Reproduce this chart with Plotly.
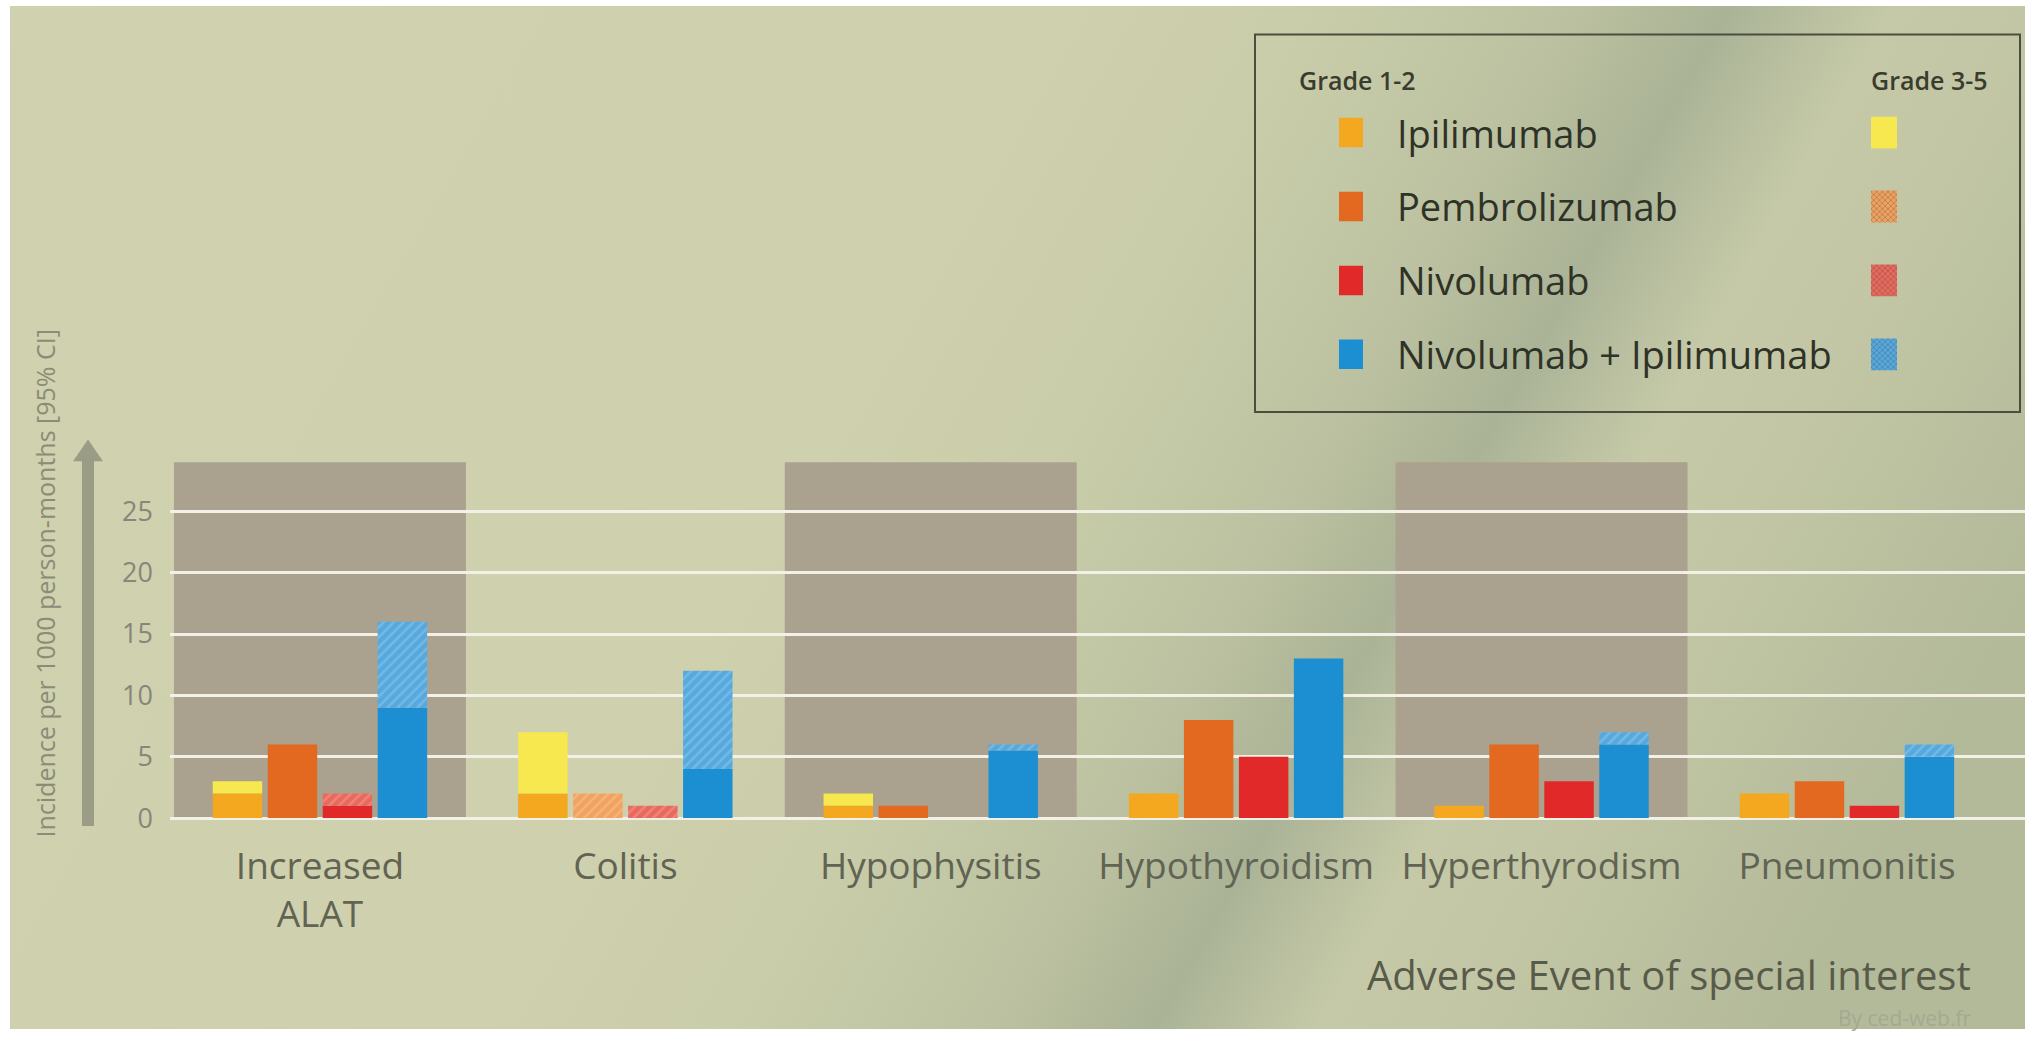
import base64
import plotly.graph_objects as go

# ---- data -----------------------------------------------------------------
categories = ["Increased<br>ALAT", "Colitis", "Hypophysitis", "Hypothyroidism",
              "Hyperthyrodism", "Pneumonitis"]
drugs = ["Ipilimumab", "Pembrolizumab", "Nivolumab", "Nivolumab + Ipilimumab"]

# incidence per 1000 person-months, grade 1-2 and grade 3-5 (stacked on top)
ipilimumab_g12 = [2, 2, 1, 2, 1, 2]
ipilimumab_g35 = [1, 5, 1, 0, 0, 0]
pembrolizumab_g12 = [6, 0, 1, 8, 6, 3]
pembrolizumab_g35 = [0, 2, 0, 0, 0, 0]
nivolumab_g12 = [1, 0, 0, 5, 3, 1]
nivolumab_g35 = [1, 1, 0, 0, 0, 0]
combo_g12 = [9, 4, 5.5, 13, 6, 5]
combo_g35 = [7, 8, 0.5, 0, 1, 1]

y_ticks = [0, 5, 10, 15, 20, 25]
shaded_groups = [0, 2, 4]

# ---- styling --------------------------------------------------------------
W, H = 2025, 1044
FONT = "Open Sans"
colors_g12 = ["#f4a81f", "#e2691f", "#e2292a", "#1b8fd2"]
colors_g35 = ["#f6e84e", "#f1a25e", "#e9695c", "#55a9de"]
hatched_g35 = [False, True, True, True]
BAND = "rgb(170,162,142)"
GRID = "#f3f1e6"
LABEL = "#616353"


def fx(px):
    return px / W


def fy(py):
    return 1 - py / H


def hatch(on, size=7):
    if not on:
        return dict(shape="")
    return dict(shape="/", size=size, solidity=0.35, fillmode="overlay",
                fgcolor="rgba(255,255,255,0.38)")


# background: diagonal beige -> grey-green gradient as an svg image
stops = [(0.0, "#d0d1ae"), (0.45, "#cfd0ad"), (0.55, "#cacda9"), (0.60, "#c3c8a6"),
         (0.66, "#bcc2a1"), (0.70, "#b2b99a"), (0.73, "#abb397"), (0.76, "#b6bd9e"),
         (0.80, "#c5c9a7"), (0.86, "#c2c6a5"), (0.95, "#b8be9d"), (1.0, "#b3ba99")]
stop_xml = "".join(f'<stop offset="{o}" stop-color="{c}"/>' for o, c in stops)
svg = (f'<svg xmlns="http://www.w3.org/2000/svg" width="2015" height="1038">'
       f'<defs><linearGradient id="g" gradientUnits="userSpaceOnUse" x1="0" y1="0" '
       f'x2="1800" y2="1000">{stop_xml}</linearGradient></defs>'
       f'<rect width="2015" height="1038" fill="url(#g)"/></svg>')
bg_uri = "data:image/svg+xml;base64," + base64.b64encode(svg.encode()).decode()

fig = go.Figure()

series = [
    (ipilimumab_g12, ipilimumab_g35),
    (pembrolizumab_g12, pembrolizumab_g35),
    (nivolumab_g12, nivolumab_g35),
    (combo_g12, combo_g35),
]
for i, (g12, g35) in enumerate(series):
    fig.add_trace(go.Bar(
        x=categories, y=g12, name=drugs[i] + " grade 1-2", offsetgroup=str(i),
        marker=dict(color=colors_g12[i], line=dict(width=0)),
        showlegend=False, hoverinfo="skip"))
    fig.add_trace(go.Bar(
        x=categories, y=g35, base=g12, name=drugs[i] + " grade 3-5", offsetgroup=str(i),
        marker=dict(color=colors_g35[i], line=dict(width=0), pattern=hatch(hatched_g35[i])),
        showlegend=False, hoverinfo="skip"))

# legend swatches (two columns) drawn as tiny bar charts so hatching matches
fig.add_trace(go.Bar(
    y=drugs, x=[1] * len(drugs), orientation="h", width=0.4,
    xaxis="x2", yaxis="y2", showlegend=False, hoverinfo="skip",
    marker=dict(color=colors_g12, line=dict(width=0))))
fig.add_trace(go.Bar(
    y=drugs, x=[1] * len(drugs), orientation="h", width=0.43,
    xaxis="x3", yaxis="y2", showlegend=False, hoverinfo="skip",
    marker=dict(color=colors_g35, line=dict(width=0),
                pattern=dict(shape=["x" if h else "" for h in hatched_g35],
                             size=4, solidity=0.3, fillmode="overlay",
                             fgcolor="rgba(255,255,255,0.35)"))))

shapes = []
for g in shaded_groups:
    shapes.append(dict(type="rect", xref="x", yref="y", x0=g - 0.478, x1=g + 0.478,
                       y0=0, y1=29, fillcolor=BAND, line=dict(width=0), layer="below"))

# y-axis arrow
shapes.append(dict(type="rect", xref="paper", yref="paper", x0=fx(82), x1=fx(94),
                   y0=fy(838), y1=fy(466), fillcolor="#9b9c86", line=dict(width=0)))
shapes.append(dict(type="path", xref="paper", yref="paper",
                   path=f"M {fx(73)} {fy(468)} L {fx(103)} {fy(468)} L {fx(88)} {fy(446)} Z",
                   fillcolor="#9b9c86", line=dict(width=0)))

# legend frame
shapes.append(dict(type="rect", xref="paper", yref="paper", x0=fx(1255), x1=fx(2020),
                   y0=fy(418), y1=fy(35), line=dict(color="#4b4e3d", width=2),
                   fillcolor="rgba(0,0,0,0)"))

annotations = [
    dict(text="Incidence per 1000 person-months [95% CI]", xref="paper", yref="paper",
         x=fx(26), y=fy(592), textangle=-90, showarrow=False,
         font=dict(family=FONT, size=25, color="#8a8c77")),
    dict(text="Adverse Event of special interest", xref="paper", yref="paper",
         x=fx(1973), y=fy(989), xanchor="right", yanchor="middle", showarrow=False,
         font=dict(family=FONT, size=40, color="#585a4a")),
    dict(text="By ced-web.fr", xref="paper", yref="paper",
         x=fx(1973), y=fy(1033), xanchor="right", yanchor="middle", showarrow=False,
         font=dict(family=FONT, size=21, color="#a5a893")),
    dict(text="Grade 1-2", xref="paper", yref="paper", x=fx(1297), y=fy(81),
         xanchor="left", yanchor="middle", showarrow=False,
         font=dict(family=FONT, size=25, color="#3a3d2e", weight=600)),
    dict(text="Grade 3-5", xref="paper", yref="paper", x=fx(1990), y=fy(81),
         xanchor="right", yanchor="middle", showarrow=False,
         font=dict(family=FONT, size=25, color="#3a3d2e", weight=600)),
]
for d in drugs:
    annotations.append(dict(text=d, xref="paper", yref="y2", x=fx(1395), y=d,
                            xanchor="left", yanchor="middle", showarrow=False,
                            font=dict(family=FONT, size=38, color="#2f3226")))

fig.update_layout(
    width=W, height=H,
    margin=dict(l=0, r=0, t=0, b=0),
    paper_bgcolor="white", plot_bgcolor="rgba(0,0,0,0)",
    barmode="group", bargap=0.28, bargroupgap=0.1,
    font=dict(family=FONT),
    xaxis=dict(domain=[fx(170), 1], range=[-0.491, 5.583], showgrid=False,
               showline=False, zeroline=False, ticks="", ticklabelstandoff=20,
               tickfont=dict(family=FONT, size=37, color=LABEL), fixedrange=True),
    yaxis=dict(domain=[fy(832.5), fy(456.5)], range=[-0.2, 30], tickvals=y_ticks,
               showgrid=True, gridcolor=GRID, gridwidth=3, zeroline=False,
               showline=False, ticks="", ticklabelstandoff=16,
               tickfont=dict(family=FONT, size=27, color="#85877a"), fixedrange=True),
    xaxis2=dict(domain=[fx(1339), fx(1363)], range=[0, 1], visible=False, anchor="y2"),
    xaxis3=dict(domain=[fx(1871), fx(1897)], range=[0, 1], visible=False, anchor="y2"),
    yaxis2=dict(domain=[fy(397), fy(97)], autorange="reversed", visible=False,
                anchor="x2", type="category"),
    shapes=shapes,
    annotations=annotations,
    images=[dict(source=bg_uri, xref="paper", yref="paper", x=fx(10), y=fy(6),
                 sizex=fx(2015), sizey=(1038 / H), xanchor="left", yanchor="top",
                 sizing="stretch", layer="below")],
)

fig.write_html("out.html")
